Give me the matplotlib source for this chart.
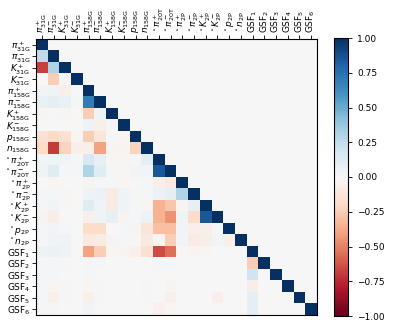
import numpy as np
import matplotlib
matplotlib.use('Agg')
import matplotlib.pyplot as plt

# axis labels (same order on x and y)
labels = [r'$\pi^+_{31\mathrm{G}}$', r'$\pi^-_{31\mathrm{G}}$', r'$K^+_{31\mathrm{G}}$', r'$K^-_{31\mathrm{G}}$',
          r'$\pi^+_{158\mathrm{G}}$', r'$\pi^-_{158\mathrm{G}}$', r'$K^+_{158\mathrm{G}}$', r'$K^-_{158\mathrm{G}}$',
          r'$p_{158\mathrm{G}}$', r'$n_{158\mathrm{G}}$',
          r'$^\star\pi^+_{20\mathrm{T}}$', r'$^\star\pi^-_{20\mathrm{T}}$',
          r'$^\star\pi^+_{2\mathrm{P}}$', r'$^\star\pi^-_{2\mathrm{P}}$', r'$^\star K^+_{2\mathrm{P}}$', r'$^\star K^-_{2\mathrm{P}}$',
          r'$^\star p_{2\mathrm{P}}$', r'$^\star n_{2\mathrm{P}}$',
          r'GSF$_1$', r'GSF$_2$', r'GSF$_3$', r'GSF$_4$', r'GSF$_5$', r'GSF$_6$']

# lower triangle of the correlation matrix, row by row (diagonal excluded)
lower = [
    [],
    [0.25],
    [-0.68, 0.30],
    [0.00, -0.25, 0.01],
    [0.03, 0.04, -0.05, 0.00],
    [0.07, 0.10, 0.07, 0.02, 0.70],
    [-0.02, 0.00, -0.02, 0.00, -0.25, 0.04],
    [0.00, 0.00, 0.00, 0.00, 0.05, -0.05, 0.02],
    [-0.15, -0.20, -0.15, -0.02, -0.25, -0.12, 0.01, -0.02],
    [-0.20, -0.70, -0.22, -0.05, -0.05, -0.40, -0.03, -0.03, -0.22],
    [0.03, 0.04, 0.03, 0.01, 0.15, 0.08, -0.02, -0.02, 0.01, 0.10],
    [0.04, 0.12, 0.02, 0.01, 0.30, 0.12, 0.01, -0.02, 0.03, 0.03, 0.85],
    [0.00, -0.02, 0.00, 0.00, -0.03, 0.01, 0.02, -0.02, 0.00, 0.01, -0.05, -0.10],
    [0.01, 0.01, 0.01, 0.00, 0.05, 0.06, -0.08, 0.04, 0.02, 0.01, 0.06, 0.10, 0.30],
    [0.01, 0.03, -0.02, 0.00, 0.12, 0.04, -0.08, 0.04, 0.01, -0.02, -0.35, -0.28, -0.03, 0.08],
    [-0.03, -0.06, 0.00, 0.00, -0.05, 0.04, 0.08, -0.03, 0.01, 0.05, -0.35, -0.45, 0.04, -0.18, 0.85],
    [0.02, 0.03, 0.01, 0.00, -0.18, -0.18, 0.00, 0.01, -0.03, -0.12, -0.30, -0.30, 0.03, -0.05, -0.05, 0.02],
    [0.02, 0.04, 0.04, 0.00, -0.10, -0.08, -0.03, 0.01, -0.01, -0.10, -0.03, -0.25, 0.03, -0.08, -0.06, 0.03, -0.05],
    [0.05, 0.06, 0.05, 0.00, -0.40, -0.25, -0.02, -0.03, -0.05, -0.15, -0.65, -0.55, -0.02, -0.03, -0.02, 0.00, 0.00, 0.00],
    [0.01, 0.01, 0.01, 0.00, 0.01, 0.01, 0.00, 0.00, 0.00, 0.00, 0.01, 0.01, 0.00, 0.00, 0.00, 0.00, 0.00, 0.00, -0.25],
    [0.01, 0.01, 0.00, 0.00, 0.01, 0.00, 0.00, 0.00, 0.00, 0.00, 0.00, 0.00, 0.00, 0.00, 0.00, 0.00, 0.00, 0.00, 0.20, 0.00],
    [0.01, -0.02, 0.01, 0.00, -0.02, 0.02, 0.00, 0.00, 0.00, 0.02, 0.00, -0.03, 0.00, 0.00, 0.00, 0.00, 0.00, 0.00, -0.06, 0.00, 0.00],
    [0.01, -0.05, 0.01, 0.00, -0.05, 0.02, 0.00, 0.00, 0.00, 0.02, 0.00, -0.05, 0.00, 0.00, 0.00, -0.05, 0.00, 0.00, 0.10, 0.00, 0.00, 0.00],
    [0.01, 0.01, 0.00, 0.00, 0.03, 0.00, 0.00, 0.00, 0.00, 0.00, -0.04, -0.02, 0.00, 0.00, 0.00, 0.00, 0.00, 0.00, 0.10, 0.00, 0.00, 0.00, 0.00],
]

n = len(labels)
corr = np.zeros((n, n))
for i, row in enumerate(lower):
    corr[i, :len(row)] = row
    corr[i, i] = 1.0

fig = plt.figure(figsize=(3.94, 3.29), dpi=100)
ax = fig.add_axes([36/394, 1-315/329, 281/394, 276/329])
im = ax.imshow(corr, cmap='RdBu', vmin=-1, vmax=1, aspect='auto')

ax.set_xticks(range(n))
ax.set_yticks(range(n))
ax.set_xticklabels(labels, rotation=90, fontsize=6.5)
ax.set_yticklabels(labels, fontsize=6.5)
ax.xaxis.tick_top()
ax.tick_params(length=3, width=0.6, pad=1)
for s in ax.spines.values():
    s.set_linewidth(0.8)

cax = fig.add_axes([334/394, 1-316/329, 14/394, 278/329])
cb = fig.colorbar(im, cax=cax, ticks=[-1, -0.75, -0.5, -0.25, 0, 0.25, 0.5, 0.75, 1])
cb.ax.set_yticklabels(['−1.00', '−0.75', '−0.50', '−0.25', '0.00', '0.25', '0.50', '0.75', '1.00'])
cb.ax.tick_params(labelsize=6.5, length=3, width=0.6)

fig.savefig('out.png', dpi=100)
